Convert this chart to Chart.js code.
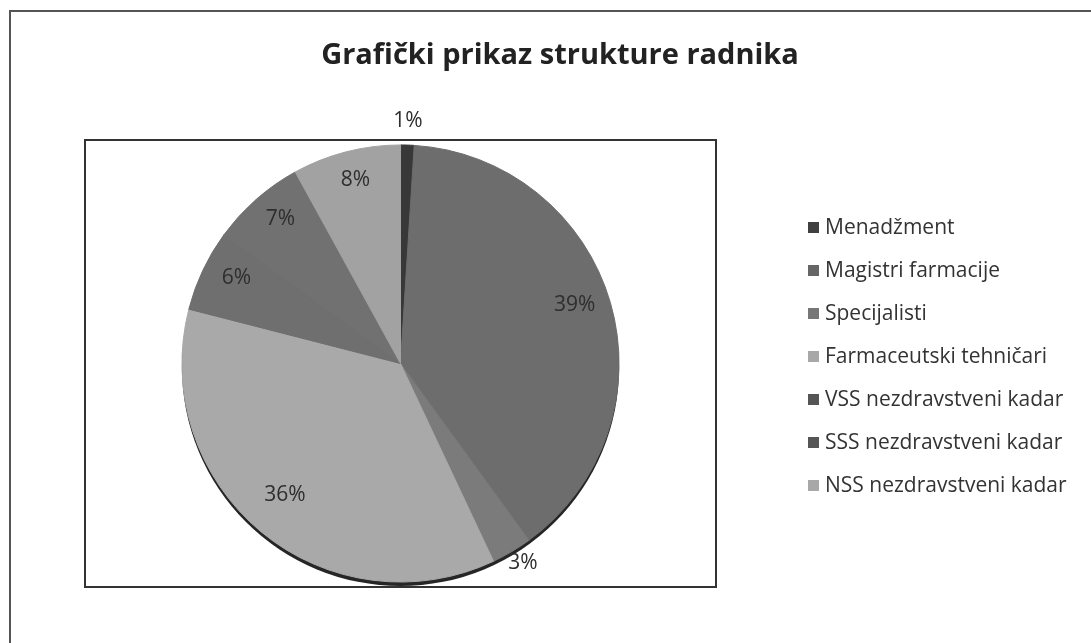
<!DOCTYPE html>
<html lang="hr">
<head>
    <meta charset="UTF-8">
    <title>Grafički prikaz strukture radnika</title>
    <script src="https://cdn.jsdelivr.net/npm/chart.js"></script>
    <style>
        body {
            margin: 0;
            padding: 0;
            background-color: #fff;
        }
        .okvir {
            position: relative;
            width: 1091px;
            height: 643px;
        }
        canvas {
            position: absolute;
            left: 0;
            top: 0;
        }
    </style>
</head>
<body>
    <div class="okvir">
        <canvas id="grafRadnici" width="1091" height="643"></canvas>
    </div>
    <script>
        const naslov = 'Grafički prikaz strukture radnika';
        const kategorije = [
            'Menadžment',
            'Magistri farmacije',
            'Specijalisti',
            'Farmaceutski tehničari',
            'VSS nezdravstveni kadar',
            'SSS nezdravstveni kadar',
            'NSS nezdravstveni kadar'
        ];
        const postoci = [1, 39, 3, 36, 6, 7, 8];
        const boje = ['#383838', '#6d6d6d', '#7b7b7b', '#a9a9a9', '#6f6f6f', '#717171', '#a2a2a2'];
        const bojeLegende = ['#404040', '#666666', '#777777', '#a8a8a8', '#555555', '#555555', '#a8a8a8'];

        // okvir, naslov i sjena ispod pite
        const okvirPlugin = {
            id: 'okvir',
            beforeDatasetsDraw(chart) {
                const ctx = chart.ctx;
                const a = chart.chartArea;
                ctx.save();
                ctx.strokeStyle = '#555';
                ctx.lineWidth = 2;
                ctx.beginPath();
                ctx.moveTo(10, 643);
                ctx.lineTo(10, 11);
                ctx.lineTo(1091, 11);
                ctx.stroke();
                ctx.strokeStyle = '#333';
                ctx.strokeRect(a.left, a.top, a.right - a.left, a.bottom - a.top);

                ctx.fillStyle = '#222';
                ctx.font = 'bold 29px "Open Sans"';
                ctx.textAlign = 'center';
                ctx.textBaseline = 'middle';
                ctx.fillText(naslov, 560, 56);

                const arc = chart.getDatasetMeta(0).data[0];
                ctx.fillStyle = '#262626';
                ctx.beginPath();
                ctx.arc(arc.x, arc.y + 4, arc.outerRadius, 0, Math.PI * 2);
                ctx.fill();
                ctx.restore();
            },
            afterDatasetsDraw(chart) {
                const ctx = chart.ctx;
                const meta = chart.getDatasetMeta(0);
                ctx.save();
                ctx.font = '21px "Open Sans"';
                ctx.fillStyle = '#2e2e2e';
                ctx.textAlign = 'center';
                ctx.textBaseline = 'middle';
                meta.data.forEach((arc, i) => {
                    const p = arc.getProps(['x', 'y', 'startAngle', 'endAngle', 'outerRadius']);
                    const sred = (p.startAngle + p.endAngle) / 2;
                    const tekst = postoci[i] + '%';
                    const cos = Math.cos(sred), sin = Math.sin(sred);
                    let r;
                    if (postoci[i] < 4) {
                        const w = ctx.measureText(tekst).width / 2;
                        r = p.outerRadius + 6 + Math.abs(cos) * w + Math.abs(sin) * 10;
                    } else {
                        r = p.outerRadius * 0.83;
                    }
                    ctx.fillText(tekst, p.x + cos * r, p.y + sin * r - 8);
                });

                // legenda
                ctx.textAlign = 'left';
                ctx.font = '21px "Open Sans"';
                kategorije.forEach((k, i) => {
                    const y = 227 + i * 43;
                    ctx.fillStyle = bojeLegende[i];
                    ctx.fillRect(808, y - 5, 11, 11);
                    ctx.fillStyle = '#333';
                    ctx.fillText(k, 825, y + 1);
                });
                ctx.restore();
            }
        };

        new Chart(document.getElementById('grafRadnici').getContext('2d'), {
            type: 'pie',
            data: {
                labels: kategorije,
                datasets: [{
                    data: postoci,
                    backgroundColor: boje,
                    borderColor: boje,
                    borderWidth: 1,
                    radius: '98%'
                }]
            },
            options: {
                responsive: false,
                animation: false,
                layout: {
                    padding: { left: 85, top: 140, right: 375, bottom: 56 }
                },
                plugins: {
                    legend: { display: false },
                    tooltip: { enabled: false }
                }
            },
            plugins: [okvirPlugin]
        });
    </script>
</body>
</html>
